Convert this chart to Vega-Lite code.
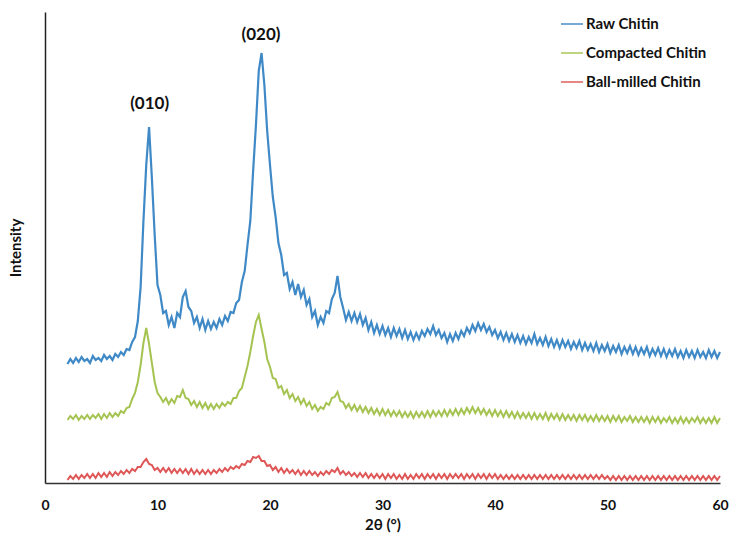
{
"$schema":"https://vega.github.io/schema/vega-lite/v6.json",
"width":675,"height":471,
"autosize":{"type":"none"},
"padding":{"left":45,"top":12,"right":11,"bottom":58},
"background":"white",
"config":{"view":{"stroke":null},"font":"Lato","axis":{"labelFont":"Lato","titleFont":"Lato"},"legend":{"labelFont":"Lato"}},
"datasets":{
"raw":[{"x":2,"y":119},{"x":2.25,"y":124},{"x":2.5,"y":120},{"x":2.75,"y":125},{"x":3,"y":121},{"x":3.25,"y":126},{"x":3.5,"y":122},{"x":3.75,"y":124},{"x":4,"y":120},{"x":4.25,"y":127},{"x":4.5,"y":123},{"x":4.75,"y":125},{"x":5,"y":122},{"x":5.25,"y":128},{"x":5.5,"y":124},{"x":5.75,"y":127},{"x":6,"y":123},{"x":6.25,"y":129},{"x":6.5,"y":126},{"x":6.75,"y":131},{"x":7,"y":128},{"x":7.25,"y":134},{"x":7.5,"y":133},{"x":7.75,"y":141},{"x":8,"y":146},{"x":8.25,"y":162},{"x":8.5,"y":196},{"x":8.75,"y":262},{"x":9,"y":318},{"x":9.25,"y":356},{"x":9.5,"y":305},{"x":9.75,"y":248},{"x":10,"y":198},{"x":10.25,"y":188},{"x":10.5,"y":170},{"x":10.75,"y":172},{"x":11,"y":158},{"x":11.25,"y":166},{"x":11.5,"y":155},{"x":11.75,"y":170},{"x":12,"y":166},{"x":12.25,"y":186},{"x":12.5,"y":192},{"x":12.75,"y":176},{"x":13,"y":172},{"x":13.25,"y":160},{"x":13.5,"y":166},{"x":13.75,"y":155},{"x":14,"y":164},{"x":14.25,"y":153},{"x":14.5,"y":162},{"x":14.75,"y":154},{"x":15,"y":161},{"x":15.25,"y":155},{"x":15.5,"y":164},{"x":15.75,"y":158},{"x":16,"y":167},{"x":16.25,"y":162},{"x":16.5,"y":171},{"x":16.75,"y":170},{"x":17,"y":180},{"x":17.25,"y":183},{"x":17.5,"y":201},{"x":17.75,"y":212},{"x":18,"y":238},{"x":18.25,"y":262},{"x":18.5,"y":312},{"x":18.75,"y":358},{"x":19,"y":412},{"x":19.25,"y":430},{"x":19.5,"y":398},{"x":19.75,"y":352},{"x":20,"y":318},{"x":20.25,"y":286},{"x":20.5,"y":266},{"x":20.75,"y":240},{"x":21,"y":228},{"x":21.25,"y":208},{"x":21.5,"y":210},{"x":21.75,"y":194},{"x":22,"y":201},{"x":22.25,"y":188},{"x":22.5,"y":199},{"x":22.75,"y":186},{"x":23,"y":193},{"x":23.25,"y":178},{"x":23.5,"y":184},{"x":23.75,"y":166},{"x":24,"y":172},{"x":24.25,"y":158},{"x":24.5,"y":166},{"x":24.75,"y":160},{"x":25,"y":172},{"x":25.25,"y":170},{"x":25.5,"y":184},{"x":25.75,"y":190},{"x":26,"y":207},{"x":26.25,"y":186},{"x":26.5,"y":175},{"x":26.75,"y":163},{"x":27,"y":171},{"x":27.25,"y":162},{"x":27.5,"y":170},{"x":27.75,"y":161},{"x":28,"y":169},{"x":28.25,"y":158},{"x":28.5,"y":165},{"x":28.75,"y":153},{"x":29,"y":161},{"x":29.25,"y":150},{"x":29.5,"y":158},{"x":29.75,"y":149},{"x":30,"y":157},{"x":30.25,"y":148},{"x":30.5,"y":155},{"x":30.75,"y":146},{"x":31,"y":155},{"x":31.25,"y":147},{"x":31.5,"y":154},{"x":31.75,"y":145},{"x":32,"y":153},{"x":32.25,"y":144},{"x":32.5,"y":151},{"x":32.75,"y":143},{"x":33,"y":150},{"x":33.25,"y":144},{"x":33.5,"y":152},{"x":33.75,"y":147},{"x":34,"y":154},{"x":34.25,"y":149},{"x":34.5,"y":157},{"x":34.75,"y":148},{"x":35,"y":153},{"x":35.25,"y":145},{"x":35.5,"y":150},{"x":35.75,"y":141},{"x":36,"y":149},{"x":36.25,"y":142},{"x":36.5,"y":150},{"x":36.75,"y":144},{"x":37,"y":152},{"x":37.25,"y":147},{"x":37.5,"y":155},{"x":37.75,"y":150},{"x":38,"y":158},{"x":38.25,"y":152},{"x":38.5,"y":160},{"x":38.75,"y":153},{"x":39,"y":159},{"x":39.25,"y":151},{"x":39.5,"y":156},{"x":39.75,"y":148},{"x":40,"y":153},{"x":40.25,"y":145},{"x":40.5,"y":151},{"x":40.75,"y":143},{"x":41,"y":150},{"x":41.25,"y":142},{"x":41.5,"y":149},{"x":41.75,"y":141},{"x":42,"y":148},{"x":42.25,"y":140},{"x":42.5,"y":147},{"x":42.75,"y":139},{"x":43,"y":146},{"x":43.25,"y":140},{"x":43.5,"y":149},{"x":43.75,"y":139},{"x":44,"y":145},{"x":44.25,"y":138},{"x":44.5,"y":146},{"x":44.75,"y":137},{"x":45,"y":144},{"x":45.25,"y":136},{"x":45.5,"y":143},{"x":45.75,"y":135},{"x":46,"y":143},{"x":46.25,"y":136},{"x":46.5,"y":142},{"x":46.75,"y":134},{"x":47,"y":141},{"x":47.25,"y":135},{"x":47.5,"y":142},{"x":47.75,"y":133},{"x":48,"y":140},{"x":48.25,"y":133},{"x":48.5,"y":139},{"x":48.75,"y":132},{"x":49,"y":140},{"x":49.25,"y":131},{"x":49.5,"y":138},{"x":49.75,"y":132},{"x":50,"y":139},{"x":50.25,"y":130},{"x":50.5,"y":137},{"x":50.75,"y":131},{"x":51,"y":138},{"x":51.25,"y":129},{"x":51.5,"y":136},{"x":51.75,"y":130},{"x":52,"y":137},{"x":52.25,"y":129},{"x":52.5,"y":136},{"x":52.75,"y":128},{"x":53,"y":135},{"x":53.25,"y":129},{"x":53.5,"y":136},{"x":53.75,"y":127},{"x":54,"y":134},{"x":54.25,"y":128},{"x":54.5,"y":135},{"x":54.75,"y":127},{"x":55,"y":134},{"x":55.25,"y":126},{"x":55.5,"y":133},{"x":55.75,"y":127},{"x":56,"y":134},{"x":56.25,"y":126},{"x":56.5,"y":132},{"x":56.75,"y":125},{"x":57,"y":133},{"x":57.25,"y":126},{"x":57.5,"y":132},{"x":57.75,"y":125},{"x":58,"y":133},{"x":58.25,"y":126},{"x":58.5,"y":131},{"x":58.75,"y":125},{"x":59,"y":133},{"x":59.25,"y":126},{"x":59.5,"y":132},{"x":59.75,"y":125},{"x":60,"y":131}],
"comp":[{"x":2,"y":63},{"x":2.25,"y":67},{"x":2.5,"y":64},{"x":2.75,"y":68},{"x":3,"y":63},{"x":3.25,"y":67},{"x":3.5,"y":64},{"x":3.75,"y":68},{"x":4,"y":64},{"x":4.25,"y":68},{"x":4.5,"y":65},{"x":4.75,"y":69},{"x":5,"y":64},{"x":5.25,"y":69},{"x":5.5,"y":65},{"x":5.75,"y":70},{"x":6,"y":66},{"x":6.25,"y":70},{"x":6.5,"y":67},{"x":6.75,"y":72},{"x":7,"y":70},{"x":7.25,"y":75},{"x":7.5,"y":76},{"x":7.75,"y":84},{"x":8,"y":90},{"x":8.25,"y":101},{"x":8.5,"y":118},{"x":8.75,"y":140},{"x":9,"y":155},{"x":9.25,"y":139},{"x":9.5,"y":120},{"x":9.75,"y":101},{"x":10,"y":90},{"x":10.25,"y":86},{"x":10.5,"y":81},{"x":10.75,"y":85},{"x":11,"y":79},{"x":11.25,"y":84},{"x":11.5,"y":80},{"x":11.75,"y":87},{"x":12,"y":86},{"x":12.25,"y":93},{"x":12.5,"y":85},{"x":12.75,"y":84},{"x":13,"y":78},{"x":13.25,"y":82},{"x":13.5,"y":76},{"x":13.75,"y":81},{"x":14,"y":75},{"x":14.25,"y":80},{"x":14.5,"y":74},{"x":14.75,"y":79},{"x":15,"y":74},{"x":15.25,"y":79},{"x":15.5,"y":75},{"x":15.75,"y":80},{"x":16,"y":77},{"x":16.25,"y":81},{"x":16.5,"y":79},{"x":16.75,"y":85},{"x":17,"y":85},{"x":17.25,"y":92},{"x":17.5,"y":95},{"x":17.75,"y":106},{"x":18,"y":117},{"x":18.25,"y":131},{"x":18.5,"y":147},{"x":18.75,"y":161},{"x":19,"y":168},{"x":19.25,"y":154},{"x":19.5,"y":141},{"x":19.75,"y":124},{"x":20,"y":116},{"x":20.25,"y":105},{"x":20.5,"y":104},{"x":20.75,"y":95},{"x":21,"y":97},{"x":21.25,"y":89},{"x":21.5,"y":93},{"x":21.75,"y":85},{"x":22,"y":89},{"x":22.25,"y":82},{"x":22.5,"y":86},{"x":22.75,"y":79},{"x":23,"y":84},{"x":23.25,"y":77},{"x":23.5,"y":81},{"x":23.75,"y":74},{"x":24,"y":78},{"x":24.25,"y":72},{"x":24.5,"y":76},{"x":24.75,"y":74},{"x":25,"y":80},{"x":25.25,"y":78},{"x":25.5,"y":85},{"x":25.75,"y":86},{"x":26,"y":91},{"x":26.25,"y":82},{"x":26.5,"y":81},{"x":26.75,"y":75},{"x":27,"y":79},{"x":27.25,"y":73},{"x":27.5,"y":78},{"x":27.75,"y":72},{"x":28,"y":77},{"x":28.25,"y":71},{"x":28.5,"y":76},{"x":28.75,"y":70},{"x":29,"y":75},{"x":29.25,"y":69},{"x":29.5,"y":74},{"x":29.75,"y":68},{"x":30,"y":74},{"x":30.25,"y":68},{"x":30.5,"y":73},{"x":30.75,"y":67},{"x":31,"y":72},{"x":31.25,"y":67},{"x":31.5,"y":72},{"x":31.75,"y":66},{"x":32,"y":71},{"x":32.25,"y":66},{"x":32.5,"y":71},{"x":32.75,"y":65},{"x":33,"y":71},{"x":33.25,"y":66},{"x":33.5,"y":71},{"x":33.75,"y":66},{"x":34,"y":72},{"x":34.25,"y":66},{"x":34.5,"y":72},{"x":34.75,"y":67},{"x":35,"y":72},{"x":35.25,"y":67},{"x":35.5,"y":73},{"x":35.75,"y":67},{"x":36,"y":73},{"x":36.25,"y":68},{"x":36.5,"y":74},{"x":36.75,"y":68},{"x":37,"y":74},{"x":37.25,"y":69},{"x":37.5,"y":75},{"x":37.75,"y":70},{"x":38,"y":76},{"x":38.25,"y":70},{"x":38.5,"y":75},{"x":38.75,"y":69},{"x":39,"y":74},{"x":39.25,"y":68},{"x":39.5,"y":73},{"x":39.75,"y":67},{"x":40,"y":73},{"x":40.25,"y":67},{"x":40.5,"y":72},{"x":40.75,"y":66},{"x":41,"y":72},{"x":41.25,"y":66},{"x":41.5,"y":71},{"x":41.75,"y":65},{"x":42,"y":71},{"x":42.25,"y":65},{"x":42.5,"y":70},{"x":42.75,"y":65},{"x":43,"y":70},{"x":43.25,"y":64},{"x":43.5,"y":70},{"x":43.75,"y":64},{"x":44,"y":69},{"x":44.25,"y":64},{"x":44.5,"y":70},{"x":44.75,"y":63},{"x":45,"y":69},{"x":45.25,"y":64},{"x":45.5,"y":69},{"x":45.75,"y":63},{"x":46,"y":69},{"x":46.25,"y":63},{"x":46.5,"y":68},{"x":46.75,"y":63},{"x":47,"y":68},{"x":47.25,"y":62},{"x":47.5,"y":68},{"x":47.75,"y":63},{"x":48,"y":68},{"x":48.25,"y":62},{"x":48.5,"y":67},{"x":48.75,"y":62},{"x":49,"y":68},{"x":49.25,"y":62},{"x":49.5,"y":67},{"x":49.75,"y":62},{"x":50,"y":67},{"x":50.25,"y":61},{"x":50.5,"y":67},{"x":50.75,"y":62},{"x":51,"y":67},{"x":51.25,"y":61},{"x":51.5,"y":66},{"x":51.75,"y":62},{"x":52,"y":67},{"x":52.25,"y":61},{"x":52.5,"y":66},{"x":52.75,"y":61},{"x":53,"y":66},{"x":53.25,"y":61},{"x":53.5,"y":66},{"x":53.75,"y":60},{"x":54,"y":66},{"x":54.25,"y":61},{"x":54.5,"y":66},{"x":54.75,"y":60},{"x":55,"y":65},{"x":55.25,"y":61},{"x":55.5,"y":66},{"x":55.75,"y":60},{"x":56,"y":65},{"x":56.25,"y":60},{"x":56.5,"y":66},{"x":56.75,"y":60},{"x":57,"y":65},{"x":57.25,"y":60},{"x":57.5,"y":65},{"x":57.75,"y":61},{"x":58,"y":66},{"x":58.25,"y":60},{"x":58.5,"y":65},{"x":58.75,"y":60},{"x":59,"y":65},{"x":59.25,"y":60},{"x":59.5,"y":66},{"x":59.75,"y":60},{"x":60,"y":65}],
"ball":[{"x":2,"y":3},{"x":2.25,"y":7},{"x":2.5,"y":4},{"x":2.75,"y":8},{"x":3,"y":4},{"x":3.25,"y":8},{"x":3.5,"y":5},{"x":3.75,"y":9},{"x":4,"y":5},{"x":4.25,"y":9},{"x":4.5,"y":5},{"x":4.75,"y":10},{"x":5,"y":6},{"x":5.25,"y":10},{"x":5.5,"y":6},{"x":5.75,"y":11},{"x":6,"y":7},{"x":6.25,"y":11},{"x":6.5,"y":8},{"x":6.75,"y":12},{"x":7,"y":9},{"x":7.25,"y":13},{"x":7.5,"y":10},{"x":7.75,"y":14},{"x":8,"y":12},{"x":8.25,"y":16},{"x":8.5,"y":16},{"x":8.75,"y":21},{"x":9,"y":24},{"x":9.25,"y":19},{"x":9.5,"y":18},{"x":9.75,"y":13},{"x":10,"y":15},{"x":10.25,"y":11},{"x":10.5,"y":15},{"x":10.75,"y":11},{"x":11,"y":15},{"x":11.25,"y":10},{"x":11.5,"y":14},{"x":11.75,"y":10},{"x":12,"y":14},{"x":12.25,"y":10},{"x":12.5,"y":14},{"x":12.75,"y":9},{"x":13,"y":14},{"x":13.25,"y":9},{"x":13.5,"y":13},{"x":13.75,"y":9},{"x":14,"y":13},{"x":14.25,"y":9},{"x":14.5,"y":13},{"x":14.75,"y":9},{"x":15,"y":13},{"x":15.25,"y":10},{"x":15.5,"y":14},{"x":15.75,"y":11},{"x":16,"y":15},{"x":16.25,"y":12},{"x":16.5,"y":16},{"x":16.75,"y":14},{"x":17,"y":17},{"x":17.25,"y":15},{"x":17.5,"y":19},{"x":17.75,"y":18},{"x":18,"y":22},{"x":18.25,"y":21},{"x":18.5,"y":26},{"x":18.75,"y":25},{"x":19,"y":27},{"x":19.25,"y":22},{"x":19.5,"y":22},{"x":19.75,"y":17},{"x":20,"y":18},{"x":20.25,"y":13},{"x":20.5,"y":16},{"x":20.75,"y":11},{"x":21,"y":15},{"x":21.25,"y":10},{"x":21.5,"y":14},{"x":21.75,"y":10},{"x":22,"y":13},{"x":22.25,"y":9},{"x":22.5,"y":13},{"x":22.75,"y":8},{"x":23,"y":12},{"x":23.25,"y":8},{"x":23.5,"y":12},{"x":23.75,"y":8},{"x":24,"y":11},{"x":24.25,"y":7},{"x":24.5,"y":11},{"x":24.75,"y":8},{"x":25,"y":12},{"x":25.25,"y":9},{"x":25.5,"y":13},{"x":25.75,"y":11},{"x":26,"y":15},{"x":26.25,"y":9},{"x":26.5,"y":12},{"x":26.75,"y":8},{"x":27,"y":11},{"x":27.25,"y":7},{"x":27.5,"y":10},{"x":27.75,"y":6},{"x":28,"y":10},{"x":28.25,"y":6},{"x":28.5,"y":10},{"x":28.75,"y":5},{"x":29,"y":9},{"x":29.25,"y":5},{"x":29.5,"y":9},{"x":29.75,"y":5},{"x":30,"y":9},{"x":30.25,"y":4},{"x":30.5,"y":9},{"x":30.75,"y":5},{"x":31,"y":9},{"x":31.25,"y":4},{"x":31.5,"y":8},{"x":31.75,"y":4},{"x":32,"y":9},{"x":32.25,"y":4},{"x":32.5,"y":8},{"x":32.75,"y":4},{"x":33,"y":9},{"x":33.25,"y":5},{"x":33.5,"y":9},{"x":33.75,"y":4},{"x":34,"y":9},{"x":34.25,"y":5},{"x":34.5,"y":9},{"x":34.75,"y":4},{"x":35,"y":9},{"x":35.25,"y":5},{"x":35.5,"y":9},{"x":35.75,"y":4},{"x":36,"y":9},{"x":36.25,"y":5},{"x":36.5,"y":9},{"x":36.75,"y":5},{"x":37,"y":9},{"x":37.25,"y":4},{"x":37.5,"y":9},{"x":37.75,"y":5},{"x":38,"y":9},{"x":38.25,"y":4},{"x":38.5,"y":9},{"x":38.75,"y":5},{"x":39,"y":9},{"x":39.25,"y":4},{"x":39.5,"y":9},{"x":39.75,"y":5},{"x":40,"y":9},{"x":40.25,"y":4},{"x":40.5,"y":8},{"x":40.75,"y":4},{"x":41,"y":8},{"x":41.25,"y":4},{"x":41.5,"y":8},{"x":41.75,"y":4},{"x":42,"y":8},{"x":42.25,"y":4},{"x":42.5,"y":8},{"x":42.75,"y":4},{"x":43,"y":8},{"x":43.25,"y":4},{"x":43.5,"y":8},{"x":43.75,"y":4},{"x":44,"y":8},{"x":44.25,"y":4},{"x":44.5,"y":8},{"x":44.75,"y":4},{"x":45,"y":8},{"x":45.25,"y":4},{"x":45.5,"y":8},{"x":45.75,"y":4},{"x":46,"y":8},{"x":46.25,"y":4},{"x":46.5,"y":8},{"x":46.75,"y":4},{"x":47,"y":8},{"x":47.25,"y":4},{"x":47.5,"y":8},{"x":47.75,"y":4},{"x":48,"y":8},{"x":48.25,"y":4},{"x":48.5,"y":8},{"x":48.75,"y":4},{"x":49,"y":8},{"x":49.25,"y":4},{"x":49.5,"y":8},{"x":49.75,"y":4},{"x":50,"y":7},{"x":50.25,"y":3},{"x":50.5,"y":7},{"x":50.75,"y":3},{"x":51,"y":7},{"x":51.25,"y":3},{"x":51.5,"y":7},{"x":51.75,"y":3},{"x":52,"y":7},{"x":52.25,"y":3},{"x":52.5,"y":7},{"x":52.75,"y":3},{"x":53,"y":7},{"x":53.25,"y":3},{"x":53.5,"y":7},{"x":53.75,"y":3},{"x":54,"y":7},{"x":54.25,"y":3},{"x":54.5,"y":7},{"x":54.75,"y":3},{"x":55,"y":7},{"x":55.25,"y":3},{"x":55.5,"y":7},{"x":55.75,"y":3},{"x":56,"y":7},{"x":56.25,"y":3},{"x":56.5,"y":7},{"x":56.75,"y":3},{"x":57,"y":7},{"x":57.25,"y":3},{"x":57.5,"y":7},{"x":57.75,"y":3},{"x":58,"y":7},{"x":58.25,"y":3},{"x":58.5,"y":7},{"x":58.75,"y":3},{"x":59,"y":7},{"x":59.25,"y":3},{"x":59.5,"y":7},{"x":59.75,"y":3},{"x":60,"y":7}],
"lab":[{"x":9.3,"y":379,"t":"(010)"},{"x":19.2,"y":448,"t":"(020)"}]
},
"encoding":{
"x":{"field":"x","type":"quantitative","scale":{"domain":[0,60],"nice":false},"axis":{"values":[0,10,20,30,40,50,60],"ticks":false,"grid":false,"domainColor":"#333333","domainWidth":1.5,"labelFontWeight":"bold","labelFontSize":14,"labelColor":"#111111","labelPadding":15,"labelFlush":false,"title":"2θ (°)","titleFontSize":15,"titleFontWeight":"bold","titleColor":"#111111","titlePadding":5}},
"y":{"field":"y","type":"quantitative","scale":{"domain":[0,471],"nice":false,"zero":false},"axis":{"labels":false,"ticks":false,"grid":false,"domainColor":"#222222","domainWidth":1.5,"title":"Intensity","titleFontSize":15,"titleFontWeight":"bold","titleColor":"#111111","titlePadding":22}}
},
"layer":[
{"data":{"name":"ball"},"mark":{"type":"line","strokeWidth":2,"strokeOpacity":0.9},"encoding":{"color":{"datum":"Ball-milled Chitin","type":"nominal","scale":{"domain":["Raw Chitin","Compacted Chitin","Ball-milled Chitin"],"range":["#2a7cc0","#9bbd3d","#dc4444"]},"legend":{"title":null,"orient":"none","legendX":515,"legendY":0,"symbolType":"stroke","symbolSize":484,"symbolStrokeWidth":1.3,"labelFontSize":15,"labelFontWeight":"bold","labelColor":"#111111","labelOffset":2,"labelLimit":200,"rowPadding":9,"padding":0}}}},
{"data":{"name":"comp"},"mark":{"type":"line","strokeWidth":2,"strokeOpacity":0.9},"encoding":{"color":{"datum":"Compacted Chitin","type":"nominal"}}},
{"data":{"name":"raw"},"mark":{"type":"line","strokeWidth":2.2,"strokeOpacity":0.9},"encoding":{"color":{"datum":"Raw Chitin","type":"nominal"}}},
{"data":{"name":"lab"},"mark":{"type":"text","font":"Lato","fontSize":17,"fontWeight":"bold","color":"#111111","baseline":"middle","align":"center"},"encoding":{"text":{"field":"t"}}}
]
}
